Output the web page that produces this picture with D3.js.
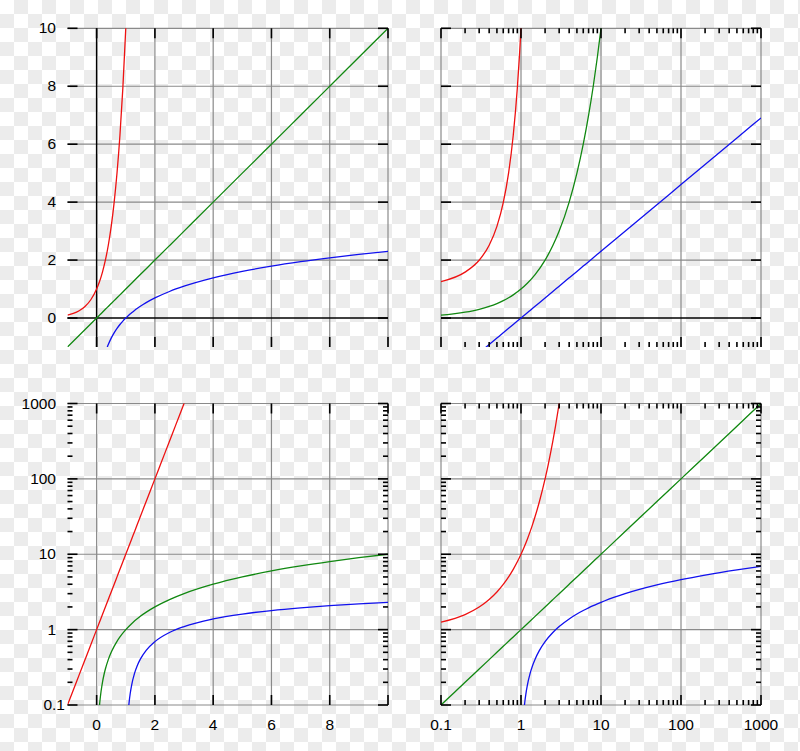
<!DOCTYPE html>
<html>
<head>
<meta charset="utf-8">
<script src="https://cdn.jsdelivr.net/npm/d3@7"></script>
<style>
  html, body { margin: 0; padding: 0; background: #fff; }
  svg { display: block; }
  text { font-family: "Liberation Sans", Arial, sans-serif; font-size: 15.5px; fill: #000; }
</style>
</head>
<body>
<script>
// ---- data ----
const redX = [-1, -0.8, -0.6, -0.4, -0.2, 0, 0.1, 0.2, 0.3, 0.4, 0.5, 0.6, 0.7, 0.8, 0.9, 1, 1.1, 1.2, 1.3, 1.4, 1.5, 1.7, 2, 2.2, 2.5, 2.7, 3, 3.2];
const redY = [0.1, 0.158, 0.251, 0.398, 0.631, 1, 1.259, 1.585, 1.995, 2.512, 3.162, 3.981, 5.012, 6.31, 7.943, 10, 12.59, 15.85, 19.95, 25.12, 31.62, 50.12, 100, 158.5, 316.2, 501.2, 1000, 1585];

const greenX = [-1, 0.08, 0.1, 0.12, 0.15, 0.2, 0.25, 0.3, 0.4, 0.5, 0.6, 0.7, 0.8, 1, 1.2, 1.5, 2, 2.5, 3, 4, 5, 6, 7, 8, 9, 10, 11, 20, 50, 100, 200, 500, 1000];
const greenY = [-1, 0.08, 0.1, 0.12, 0.15, 0.2, 0.25, 0.3, 0.4, 0.5, 0.6, 0.7, 0.8, 1, 1.2, 1.5, 2, 2.5, 3, 4, 5, 6, 7, 8, 9, 10, 11, 20, 50, 100, 200, 500, 1000];

const blueX = [0.3, 0.35, 0.4, 0.5, 0.6, 0.7, 0.8, 0.9, 1, 1.05, 1.1, 1.12, 1.15, 1.2, 1.3, 1.4, 1.5, 1.7, 2, 2.5, 3, 4, 5, 6, 7, 8, 9, 10, 11, 20, 50, 100, 200, 500, 1000];
const blueY = [-1.204, -1.05, -0.916, -0.693, -0.511, -0.357, -0.223, -0.105, 0, 0.0488, 0.0953, 0.1133, 0.1398, 0.1823, 0.2624, 0.3365, 0.4055, 0.5306, 0.6931, 0.9163, 1.0986, 1.3863, 1.6094, 1.7918, 1.9459, 2.0794, 2.1972, 2.3026, 2.3979, 2.9957, 3.912, 4.6052, 5.2983, 6.2146, 6.9078];

const linXTicks = [0, 2, 4, 6, 8, 10];
const linXLabels = ["0", "2", "4", "6", "8", ""];
const linYTicks = [0, 2, 4, 6, 8, 10];
const linYLabels = ["0", "2", "4", "6", "8", "10"];
const logTicks = [0.1, 1, 10, 100, 1000];
const logLabels = ["0.1", "1", "10", "100", "1000"];

const linDomain = [-1, 10];
const logDomain = [0.1, 1000];

// ---- drawing ----
const W = 800, H = 751;
const svg = d3.select("body").append("svg").attr("width", W).attr("height", H);
const defs = svg.append("defs");
const pat = defs.append("pattern").attr("id", "checker")
  .attr("patternUnits", "userSpaceOnUse").attr("width", 28).attr("height", 28);
pat.append("rect").attr("width", 28).attr("height", 28).attr("fill", "#ffffff");
pat.append("rect").attr("x", 14).attr("y", 0).attr("width", 14).attr("height", 14).attr("fill", "#ececec");
pat.append("rect").attr("x", 0).attr("y", 14).attr("width", 14).attr("height", 14).attr("fill", "#ececec");
svg.append("rect").attr("width", W).attr("height", H).attr("fill", "url(#checker)");

const series = [
  { xs: redX, ys: redY, color: "#ee1111" },
  { xs: greenX, ys: greenY, color: "#118811" },
  { xs: blueX, ys: blueY, color: "#1111ee" }
];

const panels = [
  { xLog: false, yLog: false, xr: [67.5, 388], yr: [347, 28.3], yLabels: true, xLabels: false, axisX0: true, axisY0: true },
  { xLog: true,  yLog: false, xr: [441, 761], yr: [347, 28.3], yLabels: false, xLabels: false, axisX0: false, axisY0: true },
  { xLog: false, yLog: true,  xr: [67.5, 388], yr: [705, 403.5], yLabels: true, xLabels: true, axisX0: false, axisY0: false },
  { xLog: true,  yLog: true,  xr: [441, 761], yr: [705, 403.5], yLabels: false, xLabels: true, axisX0: false, axisY0: false }
];

const GRID = "#8a8a8a";
const MAJ = 10, MIN = 5;

panels.forEach((p, i) => {
  const x = p.xLog ? d3.scaleLog().domain(logDomain).range(p.xr) : d3.scaleLinear().domain(linDomain).range(p.xr);
  const y = p.yLog ? d3.scaleLog().domain(logDomain).range(p.yr) : d3.scaleLinear().domain(linDomain).range(p.yr);
  const [L, R] = p.xr, [B, T] = p.yr;
  const g = svg.append("g");

  const xMajor = p.xLog ? logTicks : linXTicks;
  const yMajor = p.yLog ? logTicks : linYTicks;
  const xMinor = p.xLog ? x.ticks().filter(v => !logTicks.some(t => Math.abs(t - v) < 1e-9)) : [];
  const yMinor = p.yLog ? y.ticks().filter(v => !logTicks.some(t => Math.abs(t - v) < 1e-9)) : [];

  // grid
  xMajor.forEach(v => {
    if (p.axisX0 && v === 0) return;
    g.append("line").attr("x1", x(v)).attr("x2", x(v)).attr("y1", T).attr("y2", B)
      .attr("stroke", GRID).attr("stroke-width", 1.2);
  });
  yMajor.forEach(v => {
    if (p.axisY0 && v === 0) return;
    g.append("line").attr("x1", L).attr("x2", R).attr("y1", y(v)).attr("y2", y(v))
      .attr("stroke", GRID).attr("stroke-width", 1.2);
  });
  // black axes
  if (p.axisX0) g.append("line").attr("x1", x(0)).attr("x2", x(0)).attr("y1", T).attr("y2", B)
      .attr("stroke", "#000").attr("stroke-width", 1.5);
  if (p.axisY0) g.append("line").attr("x1", L).attr("x2", R).attr("y1", y(0)).attr("y2", y(0))
      .attr("stroke", "#000").attr("stroke-width", 1.5);

  // curves
  const cid = "clip" + i;
  defs.append("clipPath").attr("id", cid).append("rect")
    .attr("x", L).attr("y", T).attr("width", R - L).attr("height", B - T);
  const cg = g.append("g").attr("clip-path", `url(#${cid})`);
  series.forEach(s => {
    const pts = s.xs.map((xv, k) => [xv, s.ys[k]])
      .filter(d => (!p.xLog || d[0] > 0) && (!p.yLog || d[1] > 0));
    const line = d3.line().x(d => x(d[0])).y(d => y(d[1])).curve(d3.curveMonotoneX);
    cg.append("path").attr("d", line(pts)).attr("fill", "none")
      .attr("stroke", s.color).attr("stroke-width", 1.3);
  });

  // ticks
  const tick = (x1, y1, x2, y2) => g.append("line").attr("x1", x1).attr("y1", y1).attr("x2", x2).attr("y2", y2)
    .attr("stroke", "#000").attr("stroke-width", 1.6);
  xMajor.forEach(v => { tick(x(v), B, x(v), B - MAJ); tick(x(v), T, x(v), T + MAJ); });
  xMinor.forEach(v => { tick(x(v), B, x(v), B - MIN); tick(x(v), T, x(v), T + MIN); });
  yMajor.forEach(v => { tick(L, y(v), L + MAJ, y(v)); tick(R, y(v), R - MAJ, y(v)); });
  yMinor.forEach(v => { tick(L, y(v), L + MIN, y(v)); tick(R, y(v), R - MIN, y(v)); });

  // labels
  if (p.yLabels) {
    const labs = p.yLog ? logLabels : linYLabels;
    yMajor.forEach((v, k) => {
      g.append("text").attr("x", labs[k] === "0.1" ? 65 : 56).attr("y", y(v) + 5)
        .attr("text-anchor", "end").text(labs[k]);
    });
  }
  if (p.xLabels) {
    const labs = p.xLog ? logLabels : linXLabels;
    xMajor.forEach((v, k) => {
      if (!labs[k]) return;
      g.append("text").attr("x", x(v)).attr("y", 729.5)
        .attr("text-anchor", "middle").text(labs[k]);
    });
  }
});
</script>
</body>
</html>
